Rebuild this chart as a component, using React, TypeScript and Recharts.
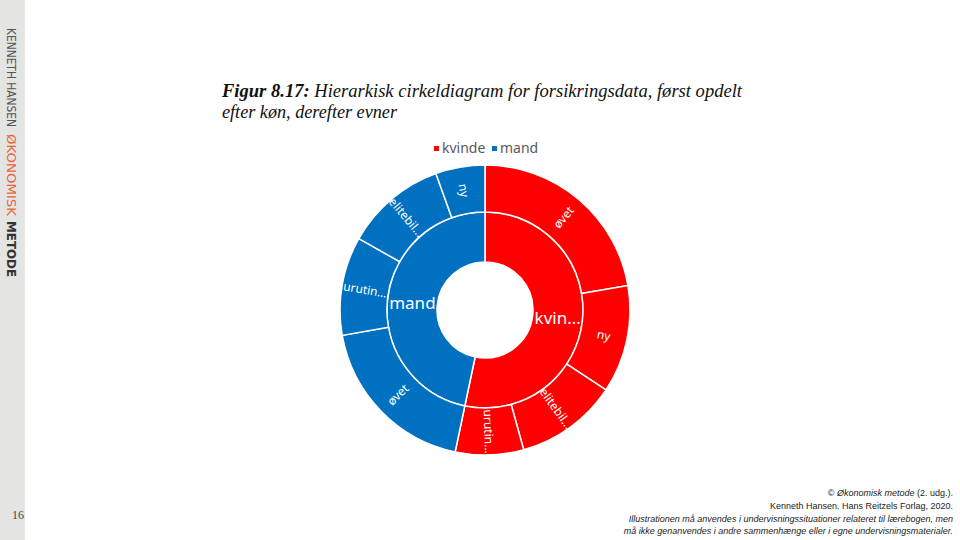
import React from 'react';
import { PieChart, Pie, Cell } from 'recharts';

const genders = ['kvinde', 'mand'];
const genderLabels = ['kvin…', 'mand'];
const genderValues = [53.3, 46.7];
const genderColors = ['#FF0000', '#0070C0'];

const kvindeLevels = ['øvet', 'ny', 'elitebil…', 'urutin…'];
const kvindeValues = [22.3, 12.0, 11.4, 7.6];
const mandLevels = ['øvet', 'urutin…', 'elitebil…', 'ny'];
const mandValues = [18.9, 11.0, 11.3, 5.5];

const innerData = genders.map((g, i) => ({ name: g, label: genderLabels[i], value: genderValues[i], color: genderColors[i] }));
const outerData = [
  ...kvindeLevels.map((l, i) => ({ name: l, label: l, value: kvindeValues[i], color: genderColors[0] })),
  ...mandLevels.map((l, i) => ({ name: l, label: l, value: mandValues[i], color: genderColors[1] })),
];

const RAD = Math.PI / 180;
const FONT = '"Noto Sans", "Open Sans", sans-serif';

const innerLabel = (p: any) => {
  const r = (p.innerRadius + p.outerRadius) / 2;
  const x = p.cx + r * Math.cos(-p.midAngle * RAD);
  const y = p.cy + r * Math.sin(-p.midAngle * RAD);
  return (
    <text x={x} y={y} fill="#fff" fontFamily={FONT} fontSize={17} textAnchor="middle" dominantBaseline="central">
      {p.payload.label}
    </text>
  );
};

const outerLabel = (p: any) => {
  const r = (p.innerRadius + p.outerRadius) / 2;
  const x = p.cx + r * Math.cos(-p.midAngle * RAD);
  const y = p.cy + r * Math.sin(-p.midAngle * RAD);
  let rot = -p.midAngle;
  if (Math.cos(p.midAngle * RAD) < 0) rot += 180;
  return (
    <text x={x} y={y} fill="#fff" fontFamily={FONT} fontSize={12} textAnchor="middle" dominantBaseline="central" transform={`rotate(${rot} ${x} ${y})`}>
      {p.payload.label}
    </text>
  );
};

export default function App() {
  return (
    <div style={{ position: 'absolute', left: 0, top: 0, width: 960, height: 540, background: '#fff', overflow: 'hidden' }}>
      <svg width={960} height={540} style={{ position: 'absolute', left: 0, top: 0 }}>
        <rect x={0} y={0} width={25} height={540} fill="#e4e4e2" />
        <g transform="rotate(90 7 28)">
          <text x={7} y={28} fontFamily='"DejaVu Sans", sans-serif' fontSize={11.5} textLength={99} lengthAdjust="spacingAndGlyphs" fill="#555">KENNETH HANSEN</text>
        </g>
        <g transform="rotate(90 7 134)">
          <text x={7} y={134} fontFamily='"DejaVu Sans", sans-serif' fontSize={11.5} textLength={82} lengthAdjust="spacingAndGlyphs" fill="#e8643c">ØKONOMISK</text>
        </g>
        <g transform="rotate(90 7 221)">
          <text x={7} y={221} fontFamily='"DejaVu Sans", sans-serif' fontWeight="bold" fontSize={11.5} textLength={56} lengthAdjust="spacingAndGlyphs" fill="#333">METODE</text>
        </g>
        <text x={12} y={519} fontFamily='"Liberation Serif", serif' fontSize={12} fill="#444">16</text>

        <text x={222} y={97} fontFamily='"Liberation Serif", serif' fontStyle="italic" fontSize={19} fill="#111" textLength={520} lengthAdjust="spacingAndGlyphs">
          <tspan fontWeight="bold">Figur 8.17:</tspan> Hierarkisk cirkeldiagram for forsikringsdata, først opdelt
        </text>
        <text x={222} y={118} fontFamily='"Liberation Serif", serif' fontStyle="italic" fontSize={19} fill="#111" textLength={175} lengthAdjust="spacingAndGlyphs">
          efter køn, derefter evner
        </text>

        <rect x={434} y={146} width={5} height={5} fill={genderColors[0]} />
        <text x={442} y={153} fontFamily={FONT} fontSize={14} fill="#595959">{genders[0]}</text>
        <rect x={492} y={146} width={5} height={5} fill={genderColors[1]} />
        <text x={500} y={153} fontFamily={FONT} fontSize={14} fill="#595959">{genders[1]}</text>

        <g fontFamily='"Liberation Sans", sans-serif' fill="#222" textAnchor="end">
          <text x={953} y={496} fontSize={9}>© <tspan fontStyle="italic">Økonomisk metode</tspan> (2. udg.).</text>
          <text x={953} y={509} fontSize={9}>Kenneth Hansen. Hans Reitzels Forlag, 2020.</text>
          <text x={953} y={522} fontSize={9} fontStyle="italic">Illustrationen må anvendes i undervisningssituationer relateret til lærebogen, men</text>
          <text x={953} y={534} fontSize={9} fontStyle="italic">må ikke genanvendes i andre sammenhænge eller i egne undervisningsmaterialer.</text>
        </g>
      </svg>
      <div style={{ position: 'absolute', left: 0, top: 0 }}>
        <PieChart width={960} height={540} margin={{ top: 0, right: 0, bottom: 0, left: 0 }}>
          <Pie data={innerData} dataKey="value" nameKey="name" cx={485} cy={310} innerRadius={48} outerRadius={98} startAngle={90} endAngle={-270} stroke="#fff" strokeWidth={1.5} isAnimationActive={false} labelLine={false} label={innerLabel}>
            {innerData.map((d, i) => <Cell key={i} fill={d.color} />)}
          </Pie>
          <Pie data={outerData} dataKey="value" nameKey="name" cx={485} cy={310} innerRadius={98} outerRadius={145} startAngle={90} endAngle={-270} stroke="#fff" strokeWidth={1.5} isAnimationActive={false} labelLine={false} label={outerLabel}>
            {outerData.map((d, i) => <Cell key={i} fill={d.color} />)}
          </Pie>
        </PieChart>
      </div>
    </div>
  );
}
